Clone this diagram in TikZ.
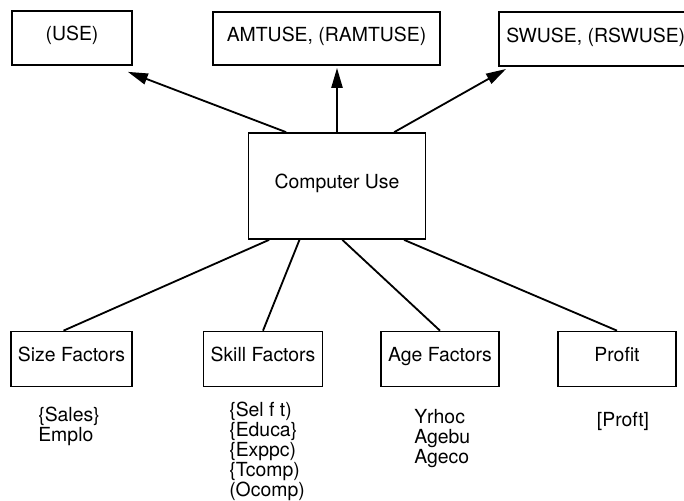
\documentclass[tikz,border=0pt]{standalone}
\usepackage{fontspec}
\setmainfont{TeX Gyre Heros}
\usetikzlibrary{calc}
\usetikzlibrary{positioning}
\usetikzlibrary{arrows.meta}
\newcommand{\edgeColor}{black}
\newcommand{\labelFont}{\fontsize{13.8pt}{14.2pt}\selectfont}
\tikzset{box/.style = {draw=\edgeColor, line width=1.2pt, font=\labelFont, text height=0.72em, text depth=0.3em, inner sep=5pt}}
\tikzset{factor/.style = {box, minimum width=2.95cm, minimum height=1.375cm}}
\tikzset{varlist/.style = {font=\labelFont, align=left, inner sep=0pt}}
\tikzset{frame/.style = {draw=\edgeColor, line width=1.2pt}}
\tikzset{link/.style = {\edgeColor, line width=1.3pt}}
\tikzset{arrow/.style = {link, -{Triangle[length=5mm, width=2.8mm]}}}

\begin{document}
\begin{tikzpicture}[x=0.025cm, y=-0.025cm]
                    \useasboundingbox (0,0) rectangle (684,500);
                    \def\row{359}

                    \node[box, minimum width=3cm, minimum height=1.35cm] (use) at (72,38) {(USE)};
                    \node[box, minimum width=5.675cm, minimum height=1.325cm] (amt) at (326.5,38.5) {AMTUSE, (RAMTUSE)};
                    % the frame runs off the right edge of the page
                    \node[font=\labelFont, anchor=west, inner sep=0pt] (sw) at (506,37) {SWUSE, (RSWUSE)};
                    \draw[frame] ($(sw.west)+(-7,-25)$) rectangle ($(sw.west)+(194,29)$);

                    \node[box, minimum width=4.425cm, minimum height=2.65cm] (cu) at (337,186) {Computer Use};

                    \node[factor] (size) at (71.5,\row) {Size Factors};
                    \node[factor] (skill) at (263,\row) {Skill Factors};
                    \node[factor] (age) at (440,\row) {Age Factors};
                    \node[factor] (profit) at (617,\row) {Profit};

                    % variables under each group
                    \node[varlist, anchor=north west] (sizevars) at (38,407) {\{Sales\}\\Emplo};
                    \node[varlist, anchor=north west] (skillvars) at (229,402) {\{Sel f t)\\\{Educa\}\\\{Exppc)\\\{Tcomp)\\(Ocomp)};
                    \node[varlist, anchor=north west] (agevars) at (414,409) {Yrhoc\\Agebu\\Ageco};
                    \node[varlist, anchor=north] (profitvars) at (623,412) {[Proft]};

                    \draw[arrow] ($(cu.north west)!0.215!(cu.north east)$) -- ($(use.south east)+(-5,6)$);
                    \draw[arrow, shorten >=1.5pt] (cu.north) -- (cu.north |- amt.south);
                    \draw[arrow] ($(cu.north west)!0.82!(cu.north east)$) -- ($(sw.west)+(0,32)$);

                    \draw[link] ($(cu.south west)!0.12!(cu.south east)$) -- ($(size.north)+(-8,0)$);
                    \draw[link] ($(cu.south west)!0.29!(cu.south east)$) -- (skill.north);
                    \draw[link] ($(cu.south west)!0.53!(cu.south east)$) -- (age.north);
                    \draw[link] ($(cu.south west)!0.875!(cu.south east)$) -- (profit.north);
                \end{tikzpicture}
\end{document}
